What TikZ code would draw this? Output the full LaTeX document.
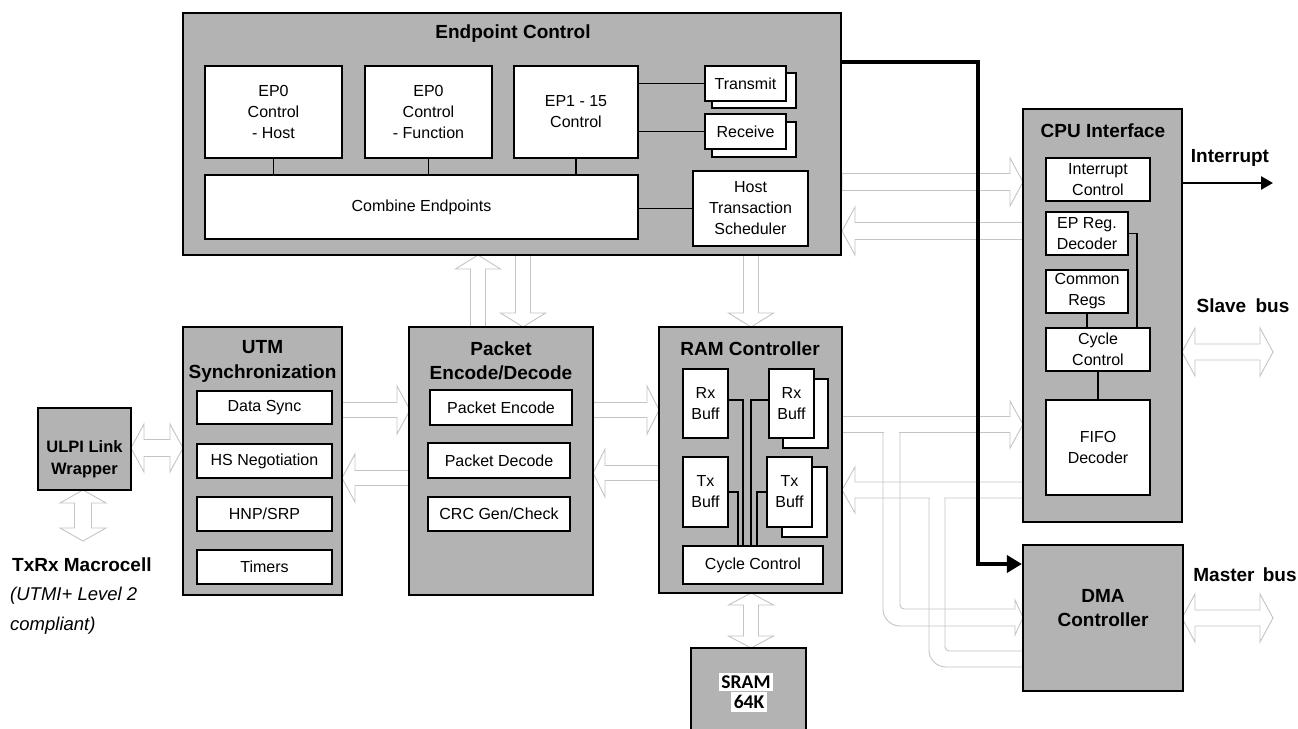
\documentclass[tikz,border=0pt]{standalone}
\usepackage{fontspec}
\setmainfont{Liberation Sans}
\newfontfamily\sramfont{Carlito}
\usetikzlibrary{arrows.meta,calc}
\definecolor{boxgray}{RGB}{179,179,179}
\definecolor{hollowc}{RGB}{196,196,196}
\newcommand\fin{\fontsize{16}{21}\selectfont}
\newcommand\fti{\fontsize{19}{24.5}\selectfont\bfseries}
\newcommand\mybox[7]{\node[#2,minimum width={(#5-#3)*1pt},minimum height={(#6-#4)*1pt}] (#1) at ({(#3+#5)/2},{(#4+#6)/2}) {#7};}
% right arrow: tail x, tip x, y, shaft half, head half, head length
\newcommand\harR[6]{\draw[hollow] ({#1},{#3-#4}) -- ({#2-#6},{#3-#4}) -- ({#2-#6},{#3-#5}) -- ({#2},{#3}) -- ({#2-#6},{#3+#5}) -- ({#2-#6},{#3+#4}) -- ({#1},{#3+#4}) -- cycle;}
% left arrow: tip x, tail x, y, ...
\newcommand\harL[6]{\draw[hollow] ({#2},{#3-#4}) -- ({#1+#6},{#3-#4}) -- ({#1+#6},{#3-#5}) -- ({#1},{#3}) -- ({#1+#6},{#3+#5}) -- ({#1+#6},{#3+#4}) -- ({#2},{#3+#4}) -- cycle;}
% double horizontal
\newcommand\harD[6]{\draw[hollow] ({#1},{#3}) -- ({#1+#6},{#3-#5}) -- ({#1+#6},{#3-#4}) -- ({#2-#6},{#3-#4}) -- ({#2-#6},{#3-#5}) -- ({#2},{#3}) -- ({#2-#6},{#3+#5}) -- ({#2-#6},{#3+#4}) -- ({#1+#6},{#3+#4}) -- ({#1+#6},{#3+#5}) -- cycle;}
% up arrow: x, tip y, tail y
\newcommand\vaU[6]{\draw[hollow] ({#1-#4},{#3}) -- ({#1-#4},{#2+#6}) -- ({#1-#5},{#2+#6}) -- ({#1},{#2}) -- ({#1+#5},{#2+#6}) -- ({#1+#4},{#2+#6}) -- ({#1+#4},{#3}) -- cycle;}
% down arrow: x, tail y, tip y
\newcommand\vaDn[6]{\draw[hollow] ({#1-#4},{#2}) -- ({#1-#4},{#3-#6}) -- ({#1-#5},{#3-#6}) -- ({#1},{#3}) -- ({#1+#5},{#3-#6}) -- ({#1+#4},{#3-#6}) -- ({#1+#4},{#2}) -- cycle;}
% double vertical: x, y1, y2
\newcommand\vaD[6]{\draw[hollow] ({#1},{#2}) -- ({#1+#5},{#2+#6}) -- ({#1+#4},{#2+#6}) -- ({#1+#4},{#3-#6}) -- ({#1+#5},{#3-#6}) -- ({#1},{#3}) -- ({#1-#5},{#3-#6}) -- ({#1-#4},{#3-#6}) -- ({#1-#4},{#2+#6}) -- ({#1-#5},{#2+#6}) -- cycle;}
\begin{document}
\begin{tikzpicture}[x=1pt,y=-1pt,
  gbox/.style={draw, line width=2.2pt, fill=boxgray, inner sep=0pt},
  wbox/.style={draw, line width=1.6pt, fill=white, inner sep=0pt, align=center, font=\fin},
  hollow/.style={draw=hollowc, line width=0.9pt, fill=white, line join=miter},
  hollowline/.style={draw=hollowc, line width=0.9pt},
  conn/.style={line width=1.4pt},
  ttl/.style={font=\fti, align=center, inner sep=0pt},
  lbl/.style={font=\fti, inner sep=0pt}]
\useasboundingbox (0,0) rectangle (1298,728);
\fill[white] (0,0) rectangle (1298,728);

% ---------- hollow arrows ----------
\harR{842}{1023}{182}{8.5}{24}{13}
\harL{842}{1023}{231}{8.5}{24}{13}
\harD{131}{183}{448}{8.5}{24}{13}
\vaD{83}{490}{541}{8.5}{23}{13}
\harR{342}{410}{410}{7.5}{24}{13}
\harL{342}{410}{478}{7.5}{24}{13}
\vaU{478}{255}{327}{7.5}{22.5}{14}
\vaDn{523}{255}{327}{7.5}{22.5}{14}
\vaDn{751}{255}{327}{7.5}{22.5}{14}
\harR{593}{659}{410}{7.5}{24}{12}
\harL{593}{659}{473}{7.5}{24}{12}
\harR{842}{1023}{424.5}{8}{23.5}{13}
\harL{842}{1023}{490}{8}{23}{13}
\harD{1182}{1273}{352}{8}{24}{13}
\harD{1182}{1273}{618}{8}{24}{13}
\vaD{751}{593}{648}{7.5}{22.5}{12}

% ---------- pipes to DMA ----------
\fill[white] (884,430.5) rectangle (899,434.5);
\fill[white] (930,496) rectangle (944,500);
\draw[hollowline, rounded corners=17pt] (883,432.5) -- (883,626) -- (1015,626);
\draw[hollowline, rounded corners=4pt] (900,432.5) -- (900,609) -- (1015,609);
\draw[hollowline] (1015,609) -- (1015,600) -- (1023,617.5) -- (1015,635) -- (1015,626);
\draw[hollowline, rounded corners=17pt] (929,498) -- (929,667) -- (1023,667);
\draw[hollowline, rounded corners=4pt] (945,498) -- (945,651) -- (1023,651);

% ---------- Endpoint Control ----------
\mybox{ec}{gbox}{183}{13}{841}{255}{}
\node[ttl] (ectitle) at (513,34) {Endpoint Control};
\mybox{ep0h}{wbox}{205}{66}{342}{158}{EP0\\Control\\- Host}
\mybox{ep0f}{wbox}{365}{66}{492}{158}{EP0\\Control\\- Function}
\mybox{ep1}{wbox}{514}{66}{638}{158}{EP1 - 15\\Control}
\mybox{comb}{wbox}{205}{175}{638}{239}{Combine Endpoints}
\mybox{txb}{wbox}{712}{73}{796}{108}{}
\mybox{tx}{wbox}{705}{66}{786}{101}{Transmit}
\mybox{rxb}{wbox}{712}{122}{796}{157}{}
\mybox{rx}{wbox}{705}{114}{786}{149}{Receive}
\mybox{hts}{wbox}{693}{171}{808}{246}{Host\\Transaction\\Scheduler}
\draw[conn] (ep0h.south) -- (ep0h.south |- comb.north);
\draw[conn] (ep0f.south) -- (ep0f.south |- comb.north);
\draw[conn] (ep1.south) -- (ep1.south |- comb.north);
\draw[conn] (tx.west -| ep1.east) -- (tx.west);
\draw[conn] (rx.west -| ep1.east) -- (rx.west);
\draw[conn] (hts.west -| comb.east) -- (hts.west);

% ---------- CPU Interface ----------
\mybox{cpu}{gbox}{1023}{109}{1182}{522}{}
\node[ttl] (cputitle) at (1103,131) {CPU Interface};
\mybox{intc}{wbox}{1046}{158}{1150}{201}{Interrupt\\Control}
\mybox{epreg}{wbox}{1046}{212}{1128}{255}{EP Reg.\\Decoder}
\mybox{comm}{wbox}{1046}{270}{1128}{313}{Common\\Regs}
\mybox{cyc}{wbox}{1046}{328}{1150}{371}{Cycle\\Control}
\mybox{fifo}{wbox}{1046}{400}{1150}{495}{FIFO\\Decoder}
\draw[conn] (epreg.east) -| (cyc.north -| 1137,0);
\draw[conn] (comm.south) -- (comm.south |- cyc.north);
\draw[conn] (cyc.south) -- (fifo.north);

% ---------- UTM ----------
\mybox{utm}{gbox}{183}{327}{342}{595}{}
\node[ttl] (utmtitle) at (262.5,361.5) {UTM\\Synchronization};
\mybox{dsync}{wbox}{197}{391}{332}{424}{Data Sync}
\mybox{hsneg}{wbox}{197}{444}{332}{478}{HS Negotiation}
\mybox{hnp}{wbox}{197}{497}{332}{531}{HNP/SRP}
\mybox{timers}{wbox}{197}{550}{332}{584}{Timers}

% ---------- ULPI ----------
\mybox{ulpi}{gbox}{38}{408}{131}{490}{}
\node[font=\fontsize{16.5}{22}\selectfont\bfseries, align=center, inner sep=0pt] (ulpitext) at (84.5,459) {ULPI Link\\Wrapper};
\node[lbl, anchor=west] (txrx) at (12,565) {TxRx Macrocell};
\node[font=\fontsize{18.5}{24.5}\selectfont\itshape, anchor=west, inner sep=0pt] (utmi) at (10,596) {(UTMI+ Level 2};
\node[font=\fontsize{18.5}{24.5}\selectfont\itshape, anchor=west, inner sep=0pt] (compl) at (10,626) {compliant)};

% ---------- Packet ----------
\mybox{pkt}{gbox}{409}{327}{593}{595}{}
\node[ttl] (pkttitle) at (501,361) {Packet\\Encode/Decode};
\mybox{penc}{wbox}{430}{390}{572}{425}{Packet Encode}
\mybox{pdec}{wbox}{428}{443}{570}{478}{Packet Decode}
\mybox{crc}{wbox}{428}{497}{570}{531}{CRC Gen/Check}

% ---------- RAM Controller ----------
\mybox{ram}{gbox}{659}{327}{842}{593}{}
\node[ttl] (ramtitle) at (750,349) {RAM Controller};
\mybox{rxl}{wbox}{683}{369}{728}{438}{Rx\\Buff}
\mybox{rxrb}{wbox}{783}{379}{828}{448}{}
\mybox{rxrf}{wbox}{769}{369}{814}{438}{Rx\\Buff}
\mybox{txl}{wbox}{683}{457}{728}{527}{Tx\\Buff}
\mybox{txrb}{wbox}{782}{467}{827}{537}{}
\mybox{txrf}{wbox}{767}{457}{812}{527}{Tx\\Buff}
\mybox{rcyc}{wbox}{683}{546}{823}{584}{Cycle Control}
\draw[conn] (rxl.east |- 0,400) -| (rcyc.north -| 743,0);
\draw[conn] (txl.east |- 0,492) -| (rcyc.north -| 738,0);
\draw[conn] (rxrf.west |- 0,400) -| (rcyc.north -| 751,0);
\draw[conn] (txrf.west |- 0,492) -| (rcyc.north -| 757,0);

% ---------- SRAM ----------
\mybox{sram}{gbox}{691}{648}{806}{745}{}
\node[font=\fontsize{19.5}{22}\sramfont\bfseries, fill=white, inner xsep=2.5pt, inner ysep=3pt] (sramA) at (746,682) {SRAM};
\node[font=\fontsize{19.5}{22}\sramfont\bfseries, fill=white, inner xsep=3pt, inner ysep=3pt] (sramB) at (749,702) {64K};

% ---------- DMA ----------
\mybox{dma}{gbox}{1023}{545}{1183}{691}{}
\node[ttl] (dmatext) at (1103,608) {DMA\\Controller};

% ---------- labels ----------
\node[lbl] (intlbl) at (1230,158) {Interrupt};
\node[lbl] (slbl) at (1243,306) {Slave\hspace{4pt} bus};
\node[lbl] (mlbl) at (1245,575) {Master\hspace{3pt} bus};

% ---------- black arrows ----------
\coordinate (intend) at (1273,183);
\draw[line width=2.6pt, -{Triangle[length=12pt,width=13pt]}] (cpu.east |- intend) -- (intend);
\draw[line width=3.6pt, -{Triangle[length=15pt,width=17pt]}] (ec.east |- 0,62) -- (978,62) -- (978,564) -- (dma.west |- 0,564);
\end{tikzpicture}
\end{document}
